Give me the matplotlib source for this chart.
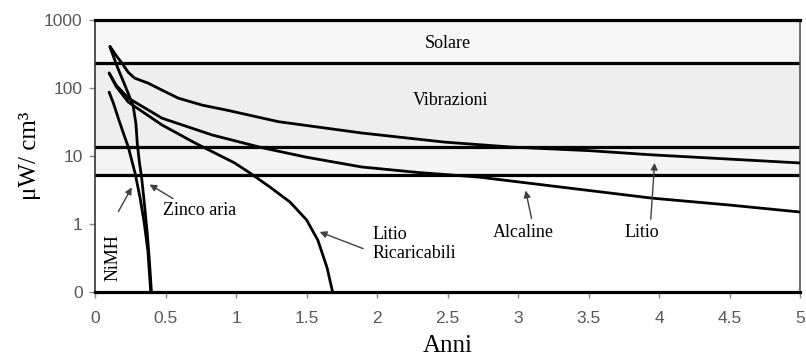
import numpy as np
import matplotlib
matplotlib.use("Agg")
import matplotlib.pyplot as plt

# dati (anni, uW/cm3)
litio_x = [0.106, 0.15, 0.19, 0.236, 0.28, 0.376, 0.475, 0.59, 0.76, 0.94, 1.30, 1.89, 2.48, 2.96, 3.5, 3.95, 4.5, 5.0]
litio_y = [410, 300, 233, 170, 140, 118, 93, 71, 56, 47, 32, 21.8, 16, 13.5, 12, 10.4, 9, 7.9]

alcaline_x = [0.1, 0.15, 0.236, 0.475, 0.83, 1.18, 1.5, 1.89, 2.3, 2.72, 3.3, 3.95, 4.5, 5.0]
alcaline_y = [166, 110, 71, 36, 20.4, 13.3, 9.6, 6.9, 5.7, 4.9, 3.5, 2.4, 1.9, 1.5]

litio_ric_x = [0.1, 0.15, 0.236, 0.475, 0.71, 0.99, 1.10, 1.24, 1.383, 1.50, 1.58, 1.645, 1.685]
litio_ric_y = [166, 105, 62, 28.6, 15.5, 7.9, 5.6, 3.5, 2.1, 1.15, 0.58, 0.23, 0.1]

zinco_x = [0.106, 0.16, 0.22, 0.27, 0.29, 0.30, 0.315, 0.33, 0.35, 0.37, 0.385, 0.40]
zinco_y = [400, 200, 100, 55, 30, 15, 8, 4.9, 2, 0.74, 0.3, 0.1]

nimh_x = [0.1, 0.13, 0.163, 0.2, 0.236, 0.284, 0.32, 0.35, 0.375, 0.395]
nimh_y = [87, 60, 37, 22, 13.5, 5.6, 2.4, 1.0, 0.4, 0.1]

# fasce delle fonti di energia
solare = (230, 1000)
vibrazioni = (13.5, 230)
fascia3 = (5.2, 13.5)

yticks = [0.1, 1, 10, 100, 1000]
ytick_labels = ["0", "1", "10", "100", "1000"]
xticks = [0, 0.5, 1, 1.5, 2, 2.5, 3, 3.5, 4, 4.5, 5]
xtick_labels = ["0", "0.5", "1", "1.5", "2", "2.5", "3", "3.5", "4", "4.5", "5"]

serif = "Liberation Serif"

fig = plt.figure(figsize=(8.06, 3.58), dpi=100)
ax = fig.add_axes([0.1179, 0.1844, 0.8747, 0.7597])
ax.set_yscale("log")
ax.set_xlim(0, 5)
ax.set_ylim(0.1, 1000)

ax.axhspan(*solare, color="#f6f6f6", zorder=0)
ax.axhspan(*vibrazioni, color="#eeeeee", zorder=0)
ax.axhspan(*fascia3, color="#f4f4f4", zorder=0)
for v in [solare[0], vibrazioni[0], fascia3[0]]:
    ax.axhline(v, color="black", lw=2.3, zorder=2)

lw = 2.0
for xs, ys in [(litio_x, litio_y), (alcaline_x, alcaline_y),
               (litio_ric_x, litio_ric_y), (zinco_x, zinco_y), (nimh_x, nimh_y)]:
    ax.plot(xs, ys, color="black", lw=lw, zorder=3,
            solid_capstyle="round", solid_joinstyle="round")

ax.text(2.5, 446, "Solare", ha="center", va="center", fontsize=13, family=serif)
ax.text(2.52, 65, "Vibrazioni", ha="center", va="center", fontsize=13, family=serif)

arrow = dict(arrowstyle="-|>", color="#404040", lw=1.0, mutation_scale=10)
ax.annotate("", xy=(0.27, 3.75), xytext=(0.156, 1.4), arrowprops=arrow)
ax.text(0.128, 0.32, "NiMH", rotation=90, ha="center", va="center",
        fontsize=13, family=serif)
ax.annotate("", xy=(0.37, 4.0), xytext=(0.57, 2.25), arrowprops=arrow)
ax.text(0.48, 1.6, "Zinco aria", ha="left", va="center", fontsize=13, family=serif)
ax.annotate("", xy=(1.575, 0.79), xytext=(1.92, 0.42), arrowprops=arrow)
ax.text(1.965, 0.51, "Litio\nRicaricabili", ha="left", va="center",
        fontsize=13, family=serif, linespacing=1.1)
ax.annotate("", xy=(3.05, 3.4), xytext=(3.1, 1.1), arrowprops=arrow)
ax.text(3.035, 0.74, "Alcaline", ha="center", va="center", fontsize=13, family=serif)
ax.annotate("", xy=(3.97, 8.7), xytext=(3.94, 1.07), arrowprops=arrow)
ax.text(3.88, 0.74, "Litio", ha="center", va="center", fontsize=13, family=serif)

ax.set_yticks(yticks)
ax.set_yticklabels(ytick_labels)
ax.yaxis.set_minor_locator(matplotlib.ticker.NullLocator())
ax.set_xticks(xticks)
ax.set_xticklabels(xtick_labels)
ax.tick_params(colors="#888888", labelcolor="#595959", labelsize=12.5, length=4,
               width=1)
ax.tick_params(axis="x", pad=10)
ax.tick_params(axis="y", pad=5)
for lab in ax.get_xticklabels() + ax.get_yticklabels():
    lab.set_family("Liberation Sans")

ax.spines["top"].set_linewidth(2.3)
ax.spines["bottom"].set_linewidth(2.3)
ax.spines["left"].set_linewidth(1.2)
ax.spines["left"].set_color("#333333")
ax.spines["right"].set_linewidth(1.2)
ax.spines["right"].set_color("#555555")

ax.set_xlabel("Anni", fontsize=18, family=serif, labelpad=6)
ax.set_ylabel("μW/ cm³", fontsize=18, family=serif, labelpad=2)

fig.savefig("out.png", dpi=100)
